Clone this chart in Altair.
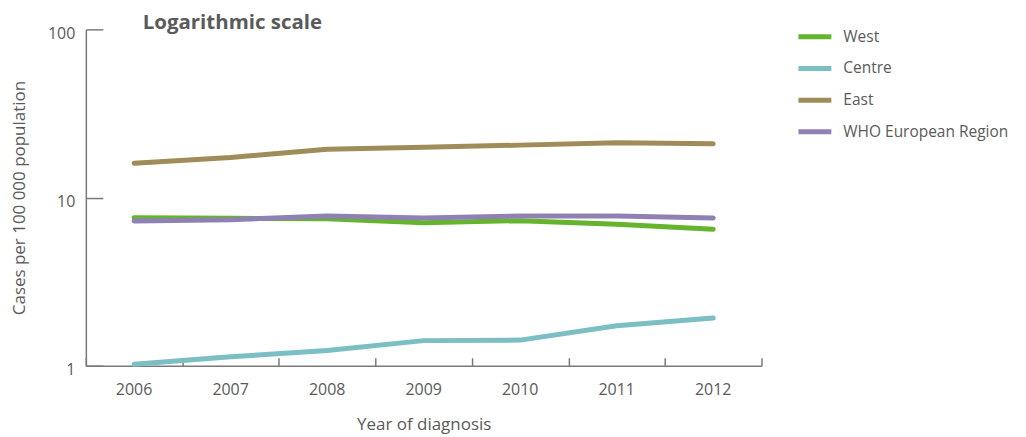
import altair as alt
import pandas as pd

years = ["2006", "2007", "2008", "2009", "2010", "2011", "2012"]
regions = ["West", "Centre", "East", "WHO European Region"]
west = [7.59, 7.53, 7.48, 7.09, 7.29, 6.93, 6.48]
centre = [1.02, 1.13, 1.23, 1.41, 1.42, 1.73, 1.92]
east = [16.0, 17.3, 19.4, 19.9, 20.5, 21.2, 20.9]
who = [7.25, 7.38, 7.77, 7.55, 7.77, 7.77, 7.56]
colors = ["#64b42d", "#7bbec4", "#a08c58", "#8f81b4"]
y_ticks = [1, 10, 100]

series = {"West": west, "Centre": centre, "East": east, "WHO European Region": who}
rows = []
for r in regions:
    for yr, v in zip(years, series[r]):
        rows.append({"Year": yr, "Region": r, "Value": v})
df = pd.DataFrame(rows)

FONT = "Open Sans"
TXT = "#5a5a5a"
AX = "#7a7a7a"
W, H = 677, 337

xscale = alt.Scale(type="band", paddingInner=0, paddingOuter=0, domain=years)
yscale = alt.Scale(type="log", domain=[1, 100])

base = alt.Chart(df)

lines = base.mark_line(strokeWidth=5, strokeCap="round", strokeJoin="round").encode(
    x=alt.X("Year:O", scale=xscale, bandPosition=0.5,
            axis=alt.Axis(title="Year of diagnosis", orient="bottom", ticks=False, tickSize=0,
                          labelPadding=16, labelAngle=0, domainColor=AX, domainWidth=1.5,
                          labelColor=TXT, labelFont=FONT, labelFontSize=16,
                          titleColor=TXT, titleFont=FONT, titleFontSize=17, titleFontWeight="normal",
                          titlePadding=19)),
    y=alt.Y("Value:Q", scale=yscale,
            axis=alt.Axis(title="Cases per 100 000 population", orient="left", values=y_ticks,
                          ticks=False, tickSize=0, labelPadding=11, labelOffset=4,
                          domainColor=AX, domainWidth=1.5, grid=False,
                          labelColor=TXT, labelFont=FONT, labelFontSize=16,
                          titleColor=TXT, titleFont=FONT, titleFontSize=17, titleFontWeight="normal",
                          titlePadding=19)),
    color=alt.Color("Region:N", sort=regions,
                    scale=alt.Scale(domain=regions, range=colors),
                    legend=alt.Legend(title=None, orient="none", legendX=711, legendY=-12,
                                      symbolType="stroke", symbolStrokeWidth=5, symbolSize=1090,
                                      rowPadding=1.7, labelOffset=9, labelFont=FONT,
                                      labelFontSize=15.5, labelColor=TXT, labelLimit=300)),
)

tick_layer = base.mark_line(opacity=0).encode(
    x=alt.X("Year:O", scale=xscale, bandPosition=0.5,
            axis=alt.Axis(title=None, orient="top", offset=-H, labels=False, domain=False,
                          ticks=True, tickSize=8, tickBand="extent", tickColor=AX, tickWidth=1.5)),
    y=alt.Y("Value:Q", scale=yscale,
            axis=alt.Axis(title=None, orient="right", offset=-W, labels=False, domain=False,
                          values=y_ticks, ticks=True, tickSize=17, tickColor=AX, tickWidth=1.5,
                          grid=False)),
    detail="Region:N",
)

chart = alt.layer(lines, tick_layer).resolve_axis(x="independent", y="independent").resolve_scale(
    x="shared", y="shared"
).properties(
    width=W, height=H,
    title=alt.TitleParams("Logarithmic scale", anchor="start", frame="group", dx=57, dy=32,
                          offset=0, baseline="alphabetic", font=FONT, fontSize=20.5,
                          fontWeight="bold", color=TXT),
    padding={"left": 78, "top": 21, "right": 257, "bottom": 72},
    autosize=alt.AutoSizeParams(type="none"),
).configure_view(stroke=None)

chart.save("out.html", embed_options={"renderer": "svg", "actions": False})
